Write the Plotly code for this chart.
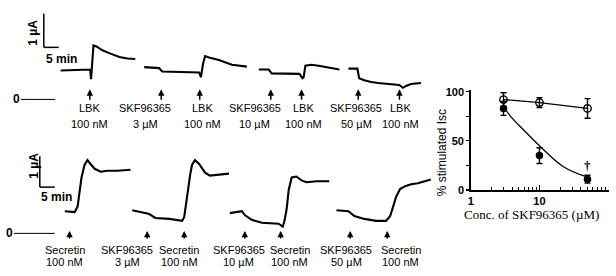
import plotly.graph_objects as go

W, H = 616, 276
def PX(px): return px / W
def PY(py): return 1 - py / H

# ---------------- Recordings (time in min, current in µA relative to 0 level) -------------
# Top panel: LBK / SKF96365
top_t = [
    [19.3, 23.3, 28.3, 29.2, 29.5, 30.0, 30.3, 31.3, 33.3, 36.0, 39.0, 41.7, 44.3],
    [47.3, 50.0, 52.3, 53.3, 58.3, 63.3, 65.7, 66.3, 67.0, 67.7, 69.0, 72.3, 76.7, 81.7],
    [85.7, 89.0, 90.0, 95.0, 99.3, 100.3, 100.7, 101.3, 103.3, 105.7, 109.3, 112.7],
    [115.7, 118.7, 119.0, 119.3, 121.0, 123.3, 125.7, 130.0, 132.7, 134.0, 135.0, 136.7, 140.0],
]
top_i = [
    [0.857, 0.871, 0.886, 0.886, 0.60, 1.114, 1.60, 1.571, 1.457, 1.357, 1.257, 1.214, 1.20],
    [0.957, 0.943, 0.929, 0.829, 0.814, 0.80, 0.80, 0.657, 1.057, 1.286, 1.243, 1.171, 1.029, 0.971],
    [0.886, 0.886, 0.771, 0.771, 0.757, 0.629, 0.657, 1.0, 1.029, 1.0, 0.943, 0.886],
    [0.914, 0.914, 0.771, 0.629, 0.571, 0.514, 0.486, 0.457, 0.429, 0.343, 0.40, 0.457, 0.486],
]
# Bottom panel: Secretin / SKF96365
bot_t = [
    [20.7, 24.0, 25.0, 25.7, 26.3, 27.3, 28.3, 29.3, 30.7, 32.7, 35.0, 38.3, 42.7],
    [43.3, 46.7, 49.0, 51.0, 55.7, 60.0, 60.7, 61.3, 62.0, 62.7, 63.3, 64.3, 65.7, 67.7, 69.3, 71.7, 75.7],
    [76.0, 78.7, 80.0, 81.0, 83.3, 86.7, 90.0, 92.3, 93.7, 94.3, 95.0, 95.7, 96.7, 98.3, 100.0, 101.7, 105.0, 109.3],
    [111.7, 115.7, 117.7, 121.0, 125.0, 128.3, 129.7, 130.7, 131.7, 133.0, 134.7, 136.7, 139.0, 143.3],
]
bot_i = [
    [0.719, 0.688, 0.875, 1.344, 1.813, 2.219, 2.375, 2.25, 2.094, 2.0, 2.031, 2.031, 2.063],
    [0.75, 0.688, 0.625, 0.50, 0.469, 0.406, 0.531, 0.938, 1.50, 1.906, 2.219, 2.375, 2.25, 1.969, 1.875, 1.906, 1.938],
    [0.656, 0.688, 0.719, 0.594, 0.438, 0.344, 0.313, 0.313, 0.219, 0.406, 0.781, 1.406, 1.813, 1.844, 1.719, 1.656, 1.688, 1.688],
    [0.75, 0.719, 0.563, 0.469, 0.406, 0.406, 0.563, 0.875, 1.188, 1.438, 1.531, 1.594, 1.625, 1.75],
]

top_arrow_t = [29.1, 53.0, 65.9, 89.7, 100.0, 119.0, 132.8]
bot_arrow_t = [22.3, 48.3, 60.7, 81.0, 93.0, 116.3, 128.7]

top_drugs = ["LBK", "SKF96365", "LBK", "SKF96365", "LBK", "SKF96365", "LBK"]
top_doses = ["100 nM", "3 µM", "100 nM", "10 µM", "100 nM", "50 µM", "100 nM"]
top_label_t = [29.0, 47.7, 66.7, 84.3, 100.7, 118.3, 133.0]

bot_drugs = ["Secretin", "SKF96365", "Secretin", "SKF96365", "Secretin", "SKF96365", "Secretin"]
bot_doses = ["100 nM", "3 µM", "100 nM", "10 µM", "100 nM", "50 µM", "100 nM"]
bot_label_t = [20.7, 41.7, 59.0, 79.0, 96.0, 115.0, 133.3]

# ---------------- Concentration-response ----------------
conc = [3, 10, 50]
lbk_pct = [92, 89, 83]
lbk_err = [7, 5, 10]
sec_pct = [83, 35, 11]
sec_err = [7, 8, 4]
fit_conc = [3, 3.8, 5.9, 10, 22, 50]
fit_pct = [85, 75, 61, 45, 24, 13]

fig = go.Figure()
LW = 2.1
for t, i in zip(top_t, top_i):
    fig.add_trace(go.Scatter(x=t, y=i, mode="lines", line=dict(color="black", width=LW),
                             xaxis="x", yaxis="y", hoverinfo="skip"))
for t, i in zip(bot_t, bot_i):
    fig.add_trace(go.Scatter(x=t, y=i, mode="lines", line=dict(color="black", width=LW),
                             xaxis="x2", yaxis="y2", hoverinfo="skip"))

# right panel
fig.add_trace(go.Scatter(x=fit_conc, y=fit_pct, mode="lines", line=dict(color="black", width=1.3, shape="spline"),
                         xaxis="x3", yaxis="y3", hoverinfo="skip"))
fig.add_trace(go.Scatter(x=conc, y=lbk_pct, mode="lines+markers",
                         line=dict(color="black", width=1.3),
                         marker=dict(symbol="circle-open", size=7.5, color="black", line=dict(width=1.4)),
                         error_y=dict(type="data", array=lbk_err, color="black", thickness=1.4, width=3),
                         xaxis="x3", yaxis="y3"))
fig.add_trace(go.Scatter(x=conc, y=sec_pct, mode="markers",
                         marker=dict(symbol="circle", size=7.5, color="black"),
                         error_y=dict(type="data", array=sec_err, color="black", thickness=1.4, width=3),
                         xaxis="x3", yaxis="y3"))

ann = []
shapes = []
lab_font = dict(family="Liberation Sans, Arial", size=11, color="black")
C = dict(xanchor="center", yanchor="middle", showarrow=False)

def arrows(times, axis, head_py, length):
    for t in times:
        ann.append(dict(x=t, xref=axis, y=PY(head_py), yref="paper", text="", showarrow=True,
                        ax=0, ay=length, axref="pixel", ayref="pixel", arrowhead=2, arrowsize=0.85,
                        arrowwidth=1.5, arrowcolor="black", standoff=0, startstandoff=0))

arrows(top_arrow_t, "x", 88.5, 12)
arrows(bot_arrow_t, "x2", 235.5, 9)

for d, s, t in zip(top_drugs, top_doses, top_label_t):
    ann.append(dict(x=t, xref="x", y=PY(108), yref="paper", text=d, font=lab_font, **C))
    ann.append(dict(x=t, xref="x", y=PY(124), yref="paper", text=s, font=lab_font, **C))
for d, s, t in zip(bot_drugs, bot_doses, bot_label_t):
    ann.append(dict(x=t, xref="x2", y=PY(255), yref="paper", text=d, font=lab_font, **C))
    ann.append(dict(x=t, xref="x2", y=PY(268), yref="paper", text=s, font=lab_font, **C))

# scale bars (5 min, 1 µA)
for ax_, ay_, t0, i0 in [("x", "y", 13.67, 1.543), ("x2", "y2", 12.33, 1.5)]:
    shapes.append(dict(type="line", xref=ax_, yref=ay_, x0=t0, x1=t0, y0=i0, y1=i0 + 1,
                       line=dict(color="black", width=1.5)))
    shapes.append(dict(type="line", xref=ax_, yref=ay_, x0=t0, x1=t0 + 5, y0=i0, y1=i0,
                       line=dict(color="black", width=1.5)))
sb_font = dict(family="Liberation Sans, Arial", size=12, color="black")
ann.append(dict(x=PX(30), y=PY(30), xref="paper", yref="paper", text="<b>1 µA</b>", textangle=-90,
                font=sb_font, **C))
ann.append(dict(x=PX(59), y=PY(57), xref="paper", yref="paper", text="<b>5 min</b>", font=sb_font, **C))
ann.append(dict(x=PX(31), y=PY(168), xref="paper", yref="paper", text="<b>1 µA</b>", textangle=-90,
                font=sb_font, **C))
ann.append(dict(x=PX(54), y=PY(200), xref="paper", yref="paper", text="<b>5 min</b>", font=sb_font, **C))

# zero levels
shapes.append(dict(type="line", xref="x", yref="y", x0=6.0, x1=17.5, y0=0, y1=0, line=dict(color="black", width=1)))
shapes.append(dict(type="line", xref="x2", yref="y2", x0=3.7, x1=17.3, y0=0, y1=0, line=dict(color="black", width=1)))
ann.append(dict(x=PX(14), y=PY(99), xref="paper", yref="paper", text="<b>0</b>", font=sb_font, **C))
ann.append(dict(x=PX(7), y=PY(238), xref="paper", yref="paper", text="<b>0</b>", font=sb_font, **C))

# right panel texts
ann.append(dict(x=PX(442), y=PY(154), xref="paper", yref="paper", text="% stimulated Isc", textangle=-90,
                font=dict(family="Liberation Sans, Arial", size=12, color="black"), **C))
ann.append(dict(x=PX(531), y=PY(218), xref="paper", yref="paper", text="Conc. of SKF96365 (µM)",
                font=dict(family="Liberation Serif, Times New Roman", size=13, color="black"), **C))
ann.append(dict(x=1.699, xref="x3", y=25, yref="y3", text="<b>†</b>",
                font=dict(family="Liberation Serif", size=13, color="#000000"), **C))

hidden = dict(visible=False, fixedrange=True)
fig.update_layout(
    width=W, height=H, margin=dict(l=0, r=0, t=0, b=0),
    paper_bgcolor="white", plot_bgcolor="rgba(0,0,0,0)", showlegend=False,
    xaxis=dict(domain=[0, PX(432)], range=[0, 144], anchor="y", **hidden),
    yaxis=dict(domain=[0.5, 1], range=[(99 - 138) / 35, 99 / 35], anchor="x", **hidden),
    xaxis2=dict(domain=[0, PX(432)], range=[0, 144], anchor="y2", **hidden),
    yaxis2=dict(domain=[0, 0.5], range=[(238 - 276) / 32, (238 - 138) / 32], anchor="x2", **hidden),
    xaxis3=dict(domain=[PX(470), PX(608.5)], type="log", range=[0, 2.005], anchor="y3",
                showline=True, linecolor="black", linewidth=1.5, showgrid=False, zeroline=False,
                tickvals=[1, 10, 100], ticktext=["1", "10", "100"], ticks="inside", ticklen=5,
                tickcolor="black", tickwidth=1.2, ticklabelstandoff=0,
                minor=dict(tickvals=[2, 3, 4, 5, 6, 7, 8, 9, 20, 30, 40, 50, 60, 70, 80, 90],
                           ticks="inside", ticklen=3, tickcolor="black", tickwidth=1, showgrid=False),
                tickfont=dict(family="Liberation Sans, Arial", size=11, color="black", weight="bold"),
                fixedrange=True),
    yaxis3=dict(domain=[PY(193), PY(89)], range=[0, 102], anchor="x3",
                showline=True, linecolor="black", linewidth=1.5, showgrid=False, zeroline=False,
                tickvals=[0, 50, 100], ticks="outside", ticklen=3, tickcolor="black", tickwidth=1.2,
                minor=dict(tickvals=[25, 75], ticks="outside", ticklen=3, tickcolor="black", showgrid=False),
                tickfont=dict(family="Liberation Sans, Arial", size=11, color="black", weight="bold"),
                fixedrange=True),
    annotations=ann, shapes=shapes,
)

fig.write_html("out.html", config={"displayModeBar": False, "staticPlot": True},
               post_script="document.body.style.margin='0';document.body.style.overflow='hidden';")
